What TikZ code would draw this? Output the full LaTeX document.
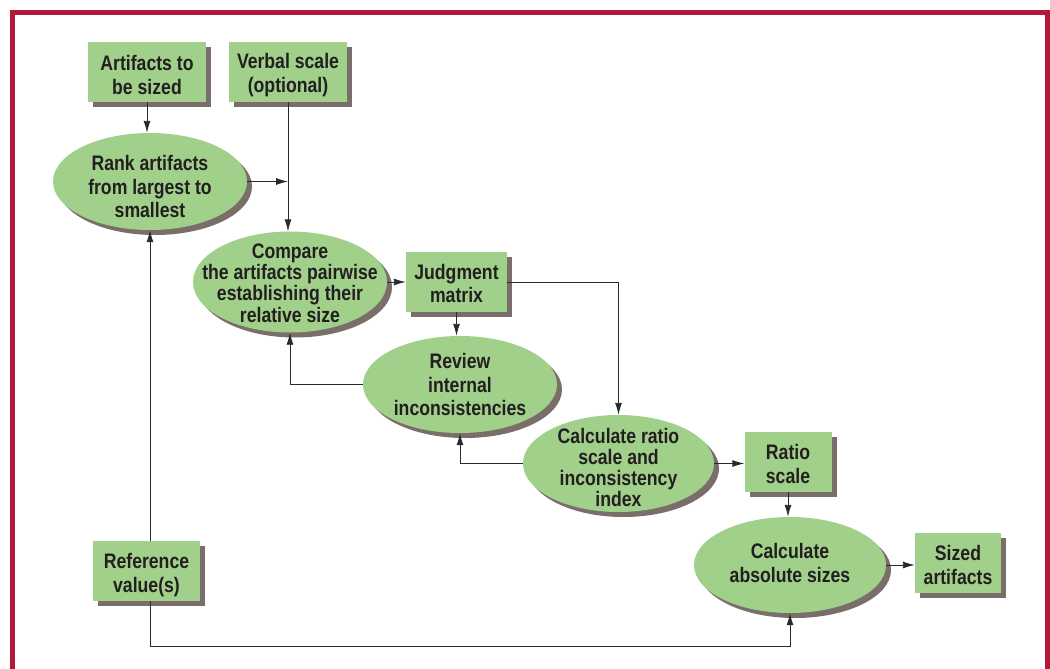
\documentclass[tikz,border=0pt]{standalone}
\usepackage{fontspec}
\setmainfont{Liberation Sans}[FakeStretch=0.84]
\usetikzlibrary{shapes.geometric,arrows.meta,shadows}
\definecolor{boxgreen}{HTML}{A0D08A}
\definecolor{shadowgray}{HTML}{7A6E6B}
\definecolor{txt}{HTML}{231F20}
\definecolor{borderred}{HTML}{B5173A}
\definecolor{linegray}{HTML}{2A2A2A}
\tikzset{
  sh/.style={drop shadow={shadow xshift=5pt, shadow yshift=-5pt, fill=shadowgray, opacity=1}},
  lbl/.style={font=\fontsize{21}{23.5}\selectfont\bfseries, text=txt, align=center, inner sep=0pt},
  lbltight/.style={font=\fontsize{21}{21.3}\selectfont\bfseries, text=txt, align=center, inner sep=0pt},
  boxnode/.style={rectangle, fill=boxgreen, sh, inner sep=0pt},
  ellnode/.style={ellipse, fill=boxgreen, sh, inner sep=0pt},
  conn/.style={draw=linegray, line width=0.9pt, -{Latex[length=12pt,width=7pt]}}
}
\begin{document}
\begin{tikzpicture}[x=1pt,y=-1pt]
\useasboundingbox (0,0) rectangle (1050,669);
\fill[white] (0,0) rectangle (1050,669);
\draw[borderred, line width=5pt] (12.5,680) -- (12.5,12.5) -- (1047.5,12.5) -- (1047.5,680);
% boxes
\node[boxnode, minimum width=118pt, minimum height=60pt] (art) at (147,72) {};
\node[lbl, yshift=-3pt] (artT) at (art) {Artifacts to\\be sized};
\node[boxnode, minimum width=118pt, minimum height=60pt] (ver) at (288,72) {};
\node[lbl, yshift=-3pt] (verT) at (ver) {Verbal scale\\(optional)};
\node[boxnode, minimum width=101pt, minimum height=60pt] (jm) at (456.5,282) {};
\node[lbl, yshift=-1.5pt] (jmT) at (jm) {Judgment\\matrix};
\node[boxnode, minimum width=87pt, minimum height=60pt] (rat) at (788,462) {};
\node[lbl, yshift=-2pt] (ratT) at (rat) {Ratio\\scale};
\node[boxnode, minimum width=86pt, minimum height=60pt] (siz) at (958,563) {};
\node[lbl, yshift=-2pt] (sizT) at (siz) {Sized\\artifacts};
\node[boxnode, minimum width=107pt, minimum height=60pt] (ref) at (146.5,571) {};
\node[lbl, yshift=-4pt] (refT) at (ref) {Reference\\value(s)};
% ellipses
\node[ellnode, minimum width=194pt, minimum height=97pt] (rank) at (150,181.5) {};
\node[lbl, yshift=-5pt] (rankT) at (rank) {Rank artifacts\\from largest to\\smallest};
\node[ellnode, minimum width=194pt, minimum height=101pt] (cmp) at (290,282) {};
\node[lbltight, yshift=-1pt] (cmpT) at (cmp) {Compare\\the artifacts pairwise\\establishing their\\relative size};
\node[ellnode, minimum width=194pt, minimum height=97pt] (rev) at (460,384.5) {};
\node[lbl, yshift=0pt] (revT) at (rev) {Review\\internal\\inconsistencies};
\node[ellnode, minimum width=191pt, minimum height=97pt] (crs) at (618.5,463.5) {};
\node[lbltight, yshift=-4pt] (crsT) at (crs) {Calculate ratio\\scale and\\inconsistency\\index};
\node[ellnode, minimum width=192pt, minimum height=96pt] (abs) at (790,565) {};
\node[lbl, yshift=2pt] (absT) at (abs) {Calculate\\absolute sizes};
% connectors
\coordinate (j1) at (ver.south |- rank.east);
\draw[conn] (art.south) -- (art.south |- rank.north);
\draw[conn] (ver.south) -- (ver.south |- cmp.north);
\draw[conn] (rank.east) -- (j1);
\draw[conn] (cmp.east) -- (cmp.east -| jm.west);
\draw[conn] (jm.east) -| (crs.north);
\draw[conn] (jm.south) -- (jm.south |- rev.north);
\draw[conn] (rev.west) -| (cmp.south);
\draw[conn] (crs.west) -| (rev.south);
\draw[conn] (crs.east) -- (crs.east -| rat.west);
\draw[conn] (rat.south) -- (rat.south |- abs.north);
\draw[conn] (abs.east) -- (abs.east -| siz.west);
\draw[conn] (rank.south |- ref.north) -- (rank.south);
\coordinate (corner) at ([yshift=-45pt]rank.south |- ref.south);
\draw[conn] (rank.south |- ref.south) -- (corner) -| (abs.south);
\end{tikzpicture}
\end{document}
